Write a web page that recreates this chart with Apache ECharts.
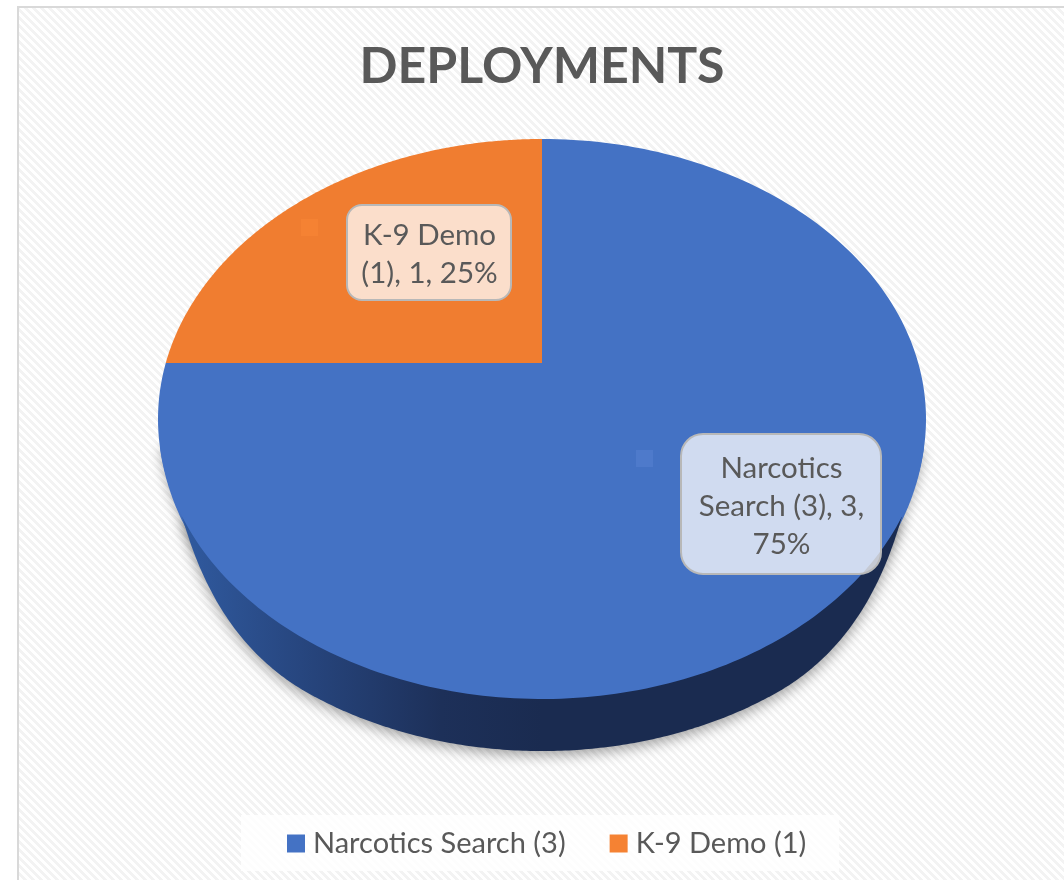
<!DOCTYPE html>
<html lang="en">

<head>
  <meta charset="UTF-8">
  <title>Deployments</title>
  <style>
    html, body { margin: 0; padding: 0; background: #fff; }
    #chart { width: 1064px; height: 880px; }
  </style>
</head>

<body>
  <div id="chart"></div>
  <script src="https://cdn.jsdelivr.net/npm/echarts@6/dist/echarts.min.js"></script>
  <script>
    const chartTitle = 'DEPLOYMENTS'
    const categories = ['Narcotics Search (3)', 'K-9 Demo (1)']
    const counts = [3, 1]
    const labelLines = [
      ['Narcotics', 'Search (3), 3,', '75%'],
      ['K-9 Demo', '(1), 1, 25%']
    ]

    const colors = ['#4472c4', '#f07d30']
    const legendColors = ['#4472c4', '#f58233']
    const keyColors = ['#4e7acb', '#f58233']
    const total = counts.reduce((a, b) => a + b, 0)

    // label boxes in pixels: x, y, w, h, then the small legend key
    const labelBoxes = [
      { x: 681, y: 434, w: 200, h: 140, r: 22, keyX: 636, keyY: 450 },
      { x: 347, y: 205, w: 164, h: 95, r: 15, keyX: 301, keyY: 219 }
    ]

    // perspective of the disc, in units of the top ellipse radius
    const apexY = 0.2
    const wall = { depth: 0.186, tip: 0.35, fade: 0.45 }
    const shadowEdge = { depth: 0.03, tip: 0.1, fade: 0.9 }

    const font = 'Lato, Carlito, sans-serif'

    function makeHatch() {
      const c = document.createElement('canvas')
      c.width = 8
      c.height = 8
      const g = c.getContext('2d')
      g.fillStyle = '#ffffff'
      g.fillRect(0, 0, 8, 8)
      g.fillStyle = '#f3f3f3'
      for (let y = 0; y < 8; y++) {
        for (let x = 0; x < 8; x++) {
          if ((x - y + 8) % 8 < 4) g.fillRect(x, y, 1, 1)
        }
      }
      return c
    }

    // ray from the apex at pie angle phi, hits the unit circle at angle returned
    function rimAngle(phi) {
      const dx = Math.sin(phi)
      const dy = Math.cos(phi)
      const b = apexY * dy
      const t = -b + Math.sqrt(b * b - (apexY * apexY - 1))
      return Math.atan2(t * dx, apexY + t * dy)
    }

    // lower rim pushed down, the push fades out towards the two tips
    function lowerEdge(api, edge) {
      const pts = []
      const a0 = Math.acos(-edge.tip)
      const a1 = Math.PI * 2 - a0
      for (let i = 0; i <= 240; i++) {
        const a = a0 + (a1 - a0) * i / 240
        const c = -Math.cos(a)
        const t = Math.min(1, Math.max(0, (c - edge.tip) / edge.fade))
        const d = edge.depth * (1 - (1 - t) * (1 - t))
        pts.push(api.coord([Math.sin(a), Math.cos(a) - d]))
      }
      return pts
    }

    function renderSlice(idx) {
      return function (params, api) {
        const before = counts.slice(0, idx).reduce((a, b) => a + b, 0)
        const start = before / total * Math.PI * 2
        const end = (before + api.value(2)) / total * Math.PI * 2
        let a0 = rimAngle(start)
        let a1 = rimAngle(end)
        while (a1 <= a0) a1 += Math.PI * 2

        const pts = [api.coord([0, apexY])]
        for (let i = 0; i <= 240; i++) {
          const a = a0 + (a1 - a0) * i / 240
          pts.push(api.coord([Math.sin(a), Math.cos(a)]))
        }

        const children = []

        // only the big slice reaches the front, so it carries the side wall
        if (idx === 0) {
          children.push({
            type: 'polygon',
            shape: { points: lowerEdge(api, shadowEdge) },
            style: {
              fill: colors[0],
              shadowBlur: 12,
              shadowColor: 'rgba(0,0,0,0.3)',
              shadowOffsetY: 2
            }
          })
          children.push({
            type: 'polygon',
            shape: { points: lowerEdge(api, wall) },
            style: {
              fill: new echarts.graphic.LinearGradient(0, 0, 1, 0, [
                { offset: 0, color: '#305a9f' },
                { offset: 0.164, color: '#27467f' },
                { offset: 0.36, color: '#1d3059' },
                { offset: 0.5, color: '#1a2b50' },
                { offset: 1, color: '#1a2b50' }
              ]),
              shadowBlur: 14,
              shadowColor: 'rgba(0,0,0,0.38)',
              shadowOffsetY: 4
            }
          })
        }

        children.push({
          type: 'polygon',
          shape: { points: pts },
          style: { fill: colors[idx] }
        })

        const box = labelBoxes[idx]
        children.push({
          type: 'rect',
          shape: { x: box.keyX, y: box.keyY, width: 17, height: 17 },
          style: { fill: keyColors[idx] }
        })
        children.push({
          type: 'rect',
          shape: { x: box.x, y: box.y, width: box.w, height: box.h, r: box.r },
          style: { fill: 'rgba(255,255,255,0.75)', stroke: '#b8b8b8', lineWidth: 2 }
        })
        children.push({
          type: 'text',
          style: {
            x: box.x + box.w / 2 + 0.5,
            y: box.y + box.h / 2 + 2,
            text: labelLines[idx].join('\n'),
            align: 'center',
            verticalAlign: 'middle',
            fill: '#595959',
            font: '29.5px ' + font,
            lineHeight: 38
          }
        })

        return { type: 'group', children: children }
      }
    }

    const chart = echarts.init(document.getElementById('chart'), null, { renderer: 'canvas' })

    chart.setOption({
      animation: false,
      title: {
        text: chartTitle,
        left: 537,
        top: 37,
        textAlign: 'center',
        textStyle: { color: '#595959', fontFamily: font, fontWeight: 'bold', fontSize: 50 }
      },
      graphic: [{
        type: 'rect',
        z: -10,
        shape: { x: 18, y: 7, width: 1080, height: 900 },
        style: {
          fill: { image: makeHatch(), repeat: 'repeat' },
          stroke: '#d9d9d9',
          lineWidth: 2
        }
      }],
      legend: {
        left: 241,
        top: 815,
        padding: [14, 33, 13, 46],
        backgroundColor: 'rgba(255,255,255,0.8)',
        itemWidth: 18,
        itemHeight: 18,
        itemGap: 44,
        icon: 'rect',
        data: categories,
        textStyle: { color: '#595959', fontFamily: font, fontSize: 29, padding: [0, 0, 0, 3] }
      },
      grid: { left: 158, top: 139, width: 768, height: 560 },
      xAxis: { type: 'value', min: -1, max: 1, show: false },
      yAxis: { type: 'value', min: -1, max: 1, show: false },
      series: categories.map((name, i) => ({
        name: name,
        type: 'custom',
        coordinateSystem: 'cartesian2d',
        itemStyle: { color: legendColors[i] },
        encode: { x: 0, y: 1 },
        clip: false,
        silent: true,
        data: [[0, 0, counts[i]]],
        renderItem: renderSlice(i)
      }))
    })
  </script>
</body>

</html>
